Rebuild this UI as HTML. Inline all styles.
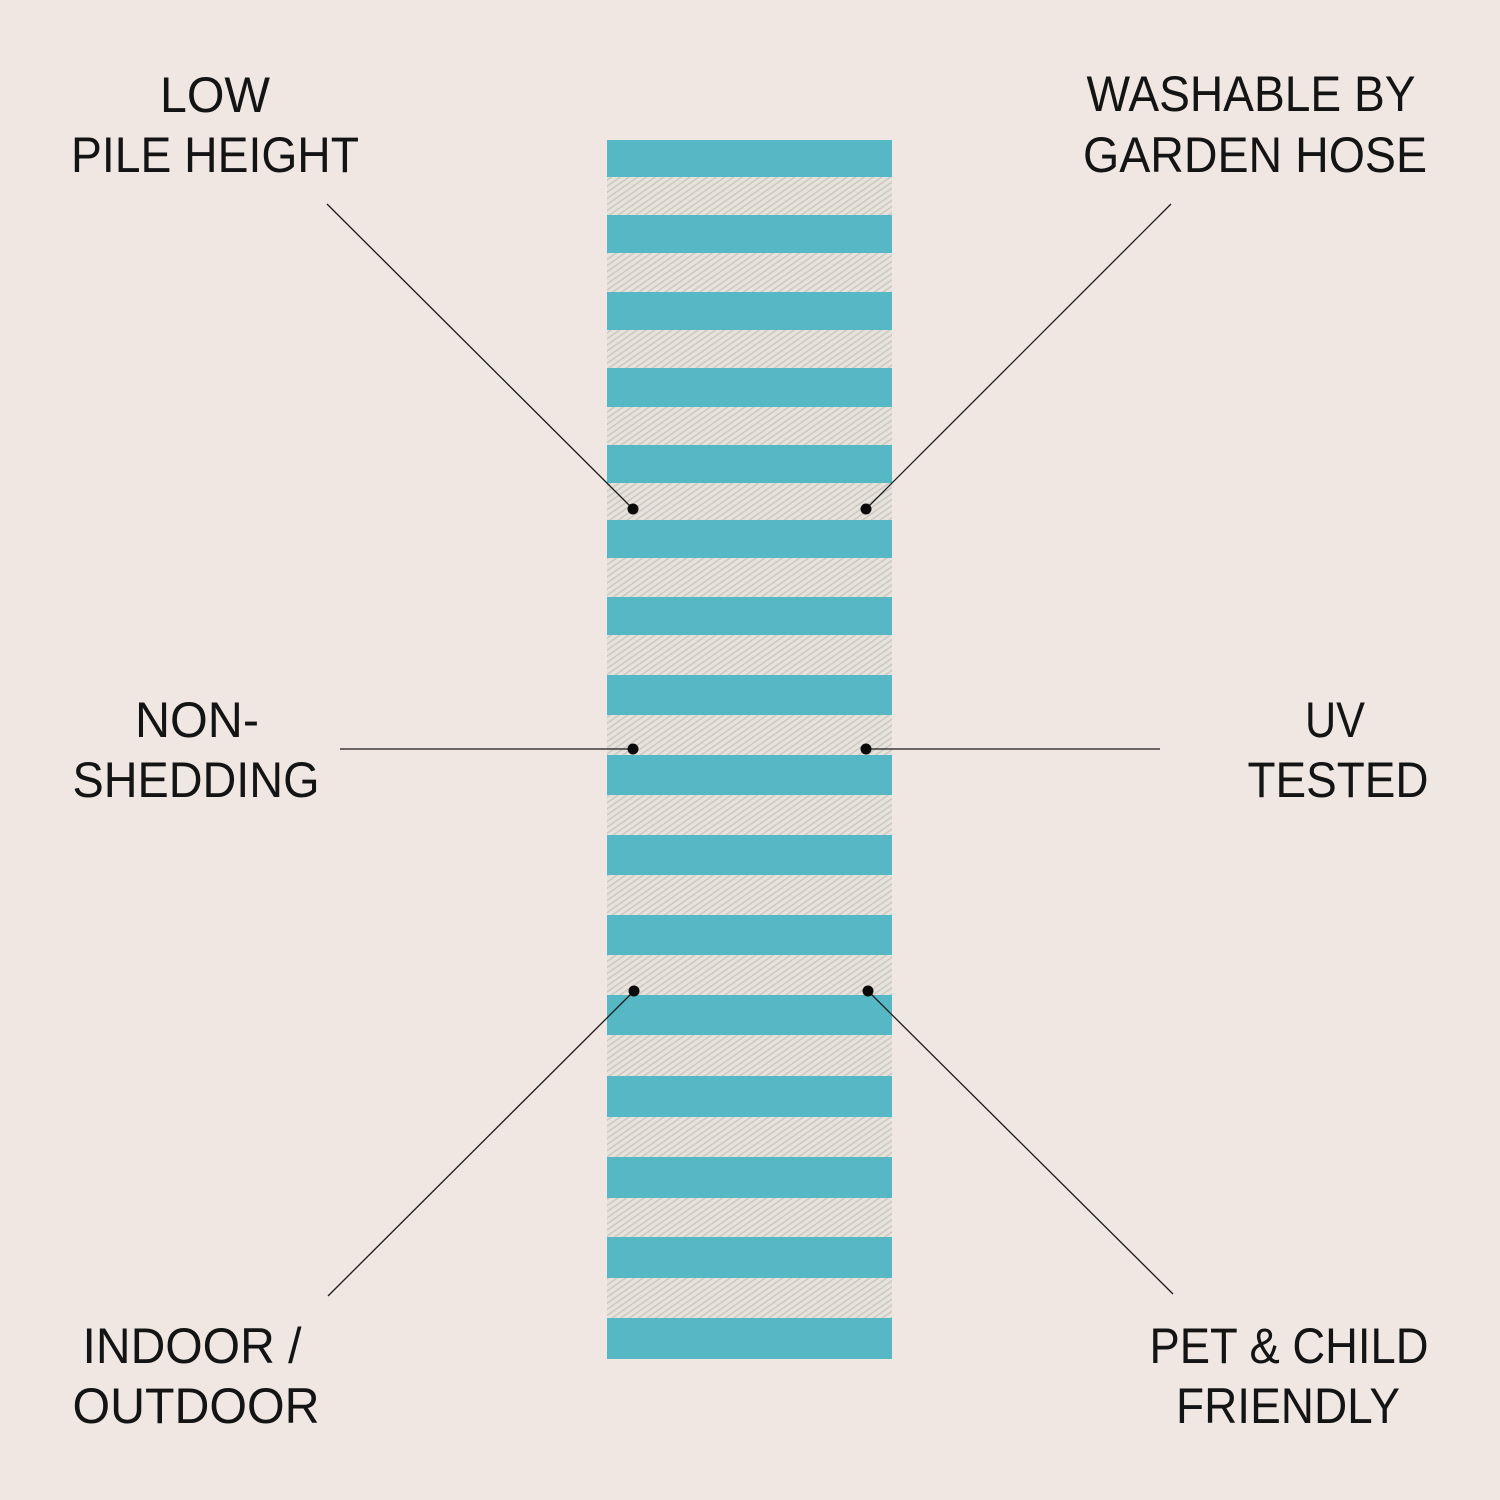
<!DOCTYPE html>
<html>
<head>
<meta charset="utf-8">
<style>
html,body{margin:0;padding:0;background:#f0e7e3;}
svg{display:block;}
text{font-family:"Liberation Sans",Arial,sans-serif;font-size:50px;fill:#141414;}
</style>
</head>
<body>
<svg width="1500" height="1500" viewBox="0 0 1500 1500" xmlns="http://www.w3.org/2000/svg">
<defs>
<pattern id="twill" patternUnits="userSpaceOnUse" width="5" height="5" patternTransform="rotate(-35)">
<rect width="5" height="5" fill="#e6e2dc"/>
<rect width="5" height="1.5" fill="#cdc8c0"/>
</pattern>
</defs>
<rect width="1500" height="1500" fill="#f0e7e3"/>
<rect x="607" y="140" width="285" height="1219" fill="url(#twill)"/>
<g fill="#57b8c5">
<rect x="607" y="140" width="285" height="37"/>
<rect x="607" y="215" width="285" height="38"/>
<rect x="607" y="292" width="285" height="38"/>
<rect x="607" y="368" width="285" height="39"/>
<rect x="607" y="445" width="285" height="38"/>
<rect x="607" y="520" width="285" height="38"/>
<rect x="607" y="597" width="285" height="38"/>
<rect x="607" y="675" width="285" height="40"/>
<rect x="607" y="755" width="285" height="40"/>
<rect x="607" y="835" width="285" height="40"/>
<rect x="607" y="915" width="285" height="40"/>
<rect x="607" y="995" width="285" height="40"/>
<rect x="607" y="1076" width="285" height="41"/>
<rect x="607" y="1157" width="285" height="41"/>
<rect x="607" y="1237" width="285" height="41"/>
<rect x="607" y="1318" width="285" height="41"/>
</g>
<g stroke="#1a1a1a" stroke-width="1.3" fill="none">
<line x1="327" y1="204" x2="633" y2="509"/>
<line x1="1171" y1="204" x2="866" y2="509"/>
<line x1="340" y1="749" x2="633" y2="749"/>
<line x1="866" y1="749" x2="1160" y2="749"/>
<line x1="328" y1="1296" x2="634" y2="991"/>
<line x1="1173" y1="1294" x2="868" y2="991"/>
</g>
<g fill="#0a0a0a">
<circle cx="633" cy="509" r="5.5"/>
<circle cx="866" cy="509" r="5.5"/>
<circle cx="633" cy="749" r="5.5"/>
<circle cx="866" cy="749" r="5.5"/>
<circle cx="634" cy="991" r="5.5"/>
<circle cx="868" cy="991" r="5.5"/>
</g>
<text x="215" y="112" text-anchor="middle" textLength="110" lengthAdjust="spacingAndGlyphs">LOW</text>
<text x="215" y="172" text-anchor="middle" textLength="288" lengthAdjust="spacingAndGlyphs">PILE HEIGHT</text>
<text x="1251" y="111" text-anchor="middle" textLength="329" lengthAdjust="spacingAndGlyphs">WASHABLE BY</text>
<text x="1255" y="172" text-anchor="middle" textLength="344" lengthAdjust="spacingAndGlyphs">GARDEN HOSE</text>
<text x="197" y="737" text-anchor="middle" textLength="124" lengthAdjust="spacingAndGlyphs">NON-</text>
<text x="196" y="797" text-anchor="middle" textLength="247" lengthAdjust="spacingAndGlyphs">SHEDDING</text>
<text x="1335" y="737" text-anchor="middle" textLength="60" lengthAdjust="spacingAndGlyphs">UV</text>
<text x="1338" y="797" text-anchor="middle" textLength="181" lengthAdjust="spacingAndGlyphs">TESTED</text>
<text x="192" y="1363" text-anchor="middle" textLength="219" lengthAdjust="spacingAndGlyphs">INDOOR /</text>
<text x="196" y="1423" text-anchor="middle" textLength="247" lengthAdjust="spacingAndGlyphs">OUTDOOR</text>
<text x="1289" y="1363" text-anchor="middle" textLength="279" lengthAdjust="spacingAndGlyphs">PET &amp; CHILD</text>
<text x="1288" y="1423" text-anchor="middle" textLength="224" lengthAdjust="spacingAndGlyphs">FRIENDLY</text>
</svg>
</body>
</html>
